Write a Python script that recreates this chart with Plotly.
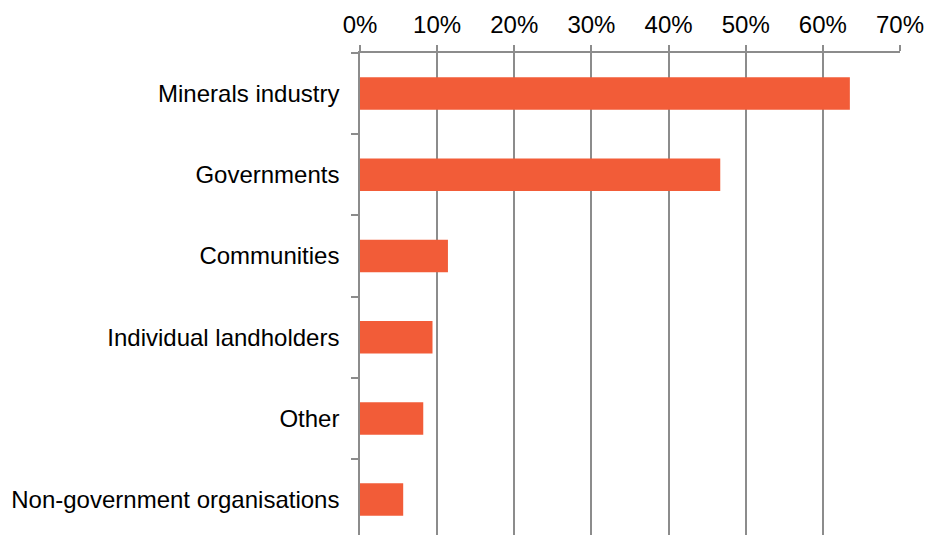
import plotly.graph_objects as go

# Survey responses by stakeholder group (share of respondents, %)
categories = [
    "Minerals industry",
    "Governments",
    "Communities",
    "Individual landholders",
    "Other",
    "Non-government organisations",
]
shares = [63.5, 46.7, 11.4, 9.4, 8.2, 5.6]

x_ticks = [0, 10, 20, 30, 40, 50, 60, 70]
x_tick_text = [f"{v}%" for v in x_ticks]

bar_color = "#F25C38"
grid_color = "#8C8C8C"
font_family = "Liberation Sans, Arial, sans-serif"

fig = go.Figure(
    go.Bar(
        x=shares,
        y=categories,
        orientation="h",
        marker=dict(color=bar_color, line=dict(width=0)),
        hoverinfo="skip",
    )
)

fig.update_layout(
    width=925,
    height=535,
    margin=dict(l=360, r=25, t=53, b=0, pad=0),
    paper_bgcolor="white",
    plot_bgcolor="white",
    bargap=0.6,
    showlegend=False,
    font=dict(family=font_family, size=24, color="#000000"),
)

fig.update_xaxes(
    side="top",
    range=[0, 70],
    tickvals=x_ticks,
    ticktext=x_tick_text,
    showgrid=True,
    gridcolor=grid_color,
    gridwidth=1.5,
    showline=True,
    linecolor=grid_color,
    linewidth=1.5,
    ticks="outside",
    ticklen=6,
    tickcolor=grid_color,
    tickwidth=1.5,
    zeroline=False,
    ticklabelstandoff=3,
)

fig.update_yaxes(
    type="category",
    categoryorder="array",
    categoryarray=categories,
    range=[5.436, -0.5],
    showgrid=False,
    showline=True,
    linecolor=grid_color,
    linewidth=1.5,
    ticks="outside",
    tickson="boundaries",
    ticklen=7,
    tickcolor=grid_color,
    tickwidth=1.5,
    ticklabelstandoff=14,
)

fig.write_html("out.html")
